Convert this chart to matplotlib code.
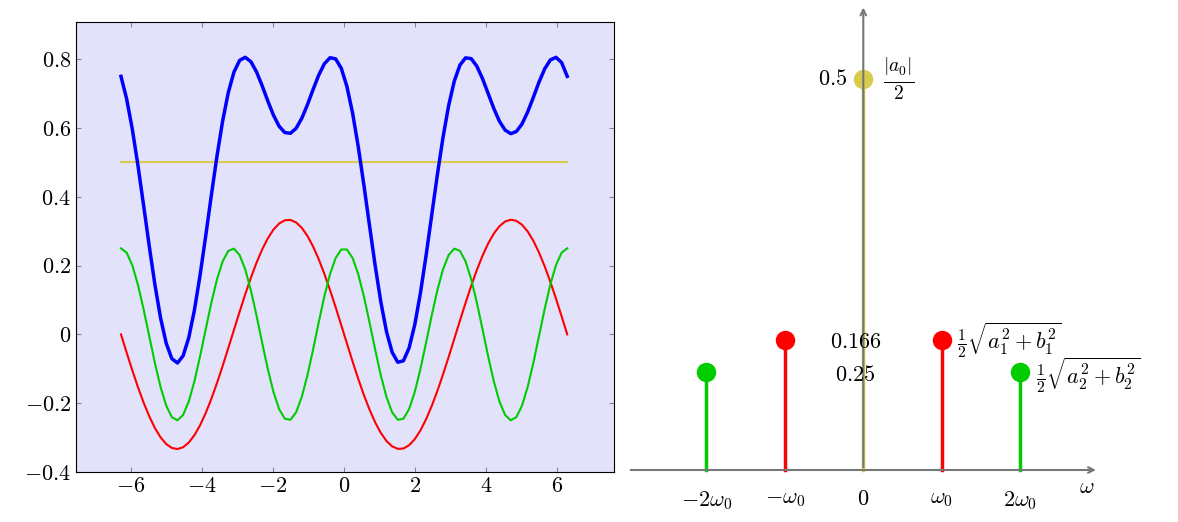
import numpy as np
import matplotlib.pyplot as plt

plt.rcParams['mathtext.fontset'] = 'cm'
plt.rcParams['font.family'] = 'serif'
plt.rcParams['font.serif'] = ['cmr10', 'DejaVu Serif']
plt.rcParams['axes.formatter.use_mathtext'] = True

# Fourier components: constant, sin(x), cos(2x)
a0_half = 0.5
b1 = -1 / 3
a2 = 0.25
n_samples = 80

# spectrum (right)
harmonics = [-2, -1, 0, 1, 2]
spec_heights = [0.125, 0.166, 0.5, 0.166, 0.125]
xtick_labels = [r'$-2\omega_0$', r'$-\omega_0$', r'$0$', r'$\omega_0$', r'$2\omega_0$']

BLUE = '#0000ff'
RED = '#ff0000'
GREEN = '#00cc00'
YEL = '#d9cc4d'
spec_colors = [GREEN, RED, YEL, RED, GREEN]

fig = plt.figure(figsize=(11.78, 5.22), dpi=100)

# left panel
ax = fig.add_axes([76 / 1178, 50 / 522, 538 / 1178, 450 / 522])
ax.set_facecolor('#e2e2fb')
x = np.linspace(-2 * np.pi, 2 * np.pi, n_samples)
c0 = np.full_like(x, a0_half)
c1 = b1 * np.sin(x)
c2 = a2 * np.cos(2 * x)
ax.plot(x, c0, color=YEL, lw=1.5)
ax.plot(x, c1, color=RED, lw=1.5)
ax.plot(x, c2, color=GREEN, lw=1.5)
ax.plot(x, c0 + c1 + c2, color=BLUE, lw=2.5)
ax.set_xlim(-7.55, 7.6)
ax.set_ylim(-0.4, 0.908)
xt = [-6, -4, -2, 0, 2, 4, 6]
ax.set_xticks(xt, [f'${v}$' for v in xt])
yt = [-0.4, -0.2, 0, 0.2, 0.4, 0.6, 0.8]
ax.set_yticks(yt, [f'${v:g}$' for v in yt])
ax.tick_params(labelsize=16, direction='in', color='#888888')
ax.tick_params(top=True, right=True, direction='in')

# right panel
ax2 = fig.add_axes([620 / 1178, 0, 558 / 1178, 1])
ax2.set_xlim(-3.10, 4.01)
ax2.set_ylim(-0.0665, 0.601)
ax2.axis('off')
ax2.annotate('', xy=(3.0, 0), xytext=(-3.0, 0),
             arrowprops=dict(arrowstyle='->', color='#777777', lw=1.5))
ax2.annotate('', xy=(0, 0.595), xytext=(0, 0),
             arrowprops=dict(arrowstyle='->', color='#777777', lw=1.5))
for h, v, c in zip(harmonics, spec_heights, spec_colors):
    ax2.plot([h, h], [0, v], color=c, lw=2.5)
    ax2.plot(h, v, 'o', color=c, ms=13)
for h, lab in zip(harmonics, xtick_labels):
    ax2.text(h, -0.025, lab, ha='center', va='top', fontsize=16)
ax2.text(2.85, -0.01, r'$\omega$', ha='center', va='top', fontsize=16)
ax2.text(-0.2, 0.5, r'$0.5$', ha='right', va='center', fontsize=16)
ax2.text(0.25, 0.5, r'$\frac{|a_0|}{2}$', ha='left', va='center', fontsize=20)
ax2.text(-0.1, 0.163, r'$0.166$', ha='center', va='center', fontsize=16)
ax2.text(-0.1, 0.122, r'$0.25$', ha='center', va='center', fontsize=16)
ax2.text(1.2, 0.166, r'$\frac{1}{2}\sqrt{a_1^2+b_1^2}$', ha='left', va='center', fontsize=16)
ax2.text(2.2, 0.122, r'$\frac{1}{2}\sqrt{a_2^2+b_2^2}$', ha='left', va='center', fontsize=16)

fig.savefig('out.png', dpi=100)
